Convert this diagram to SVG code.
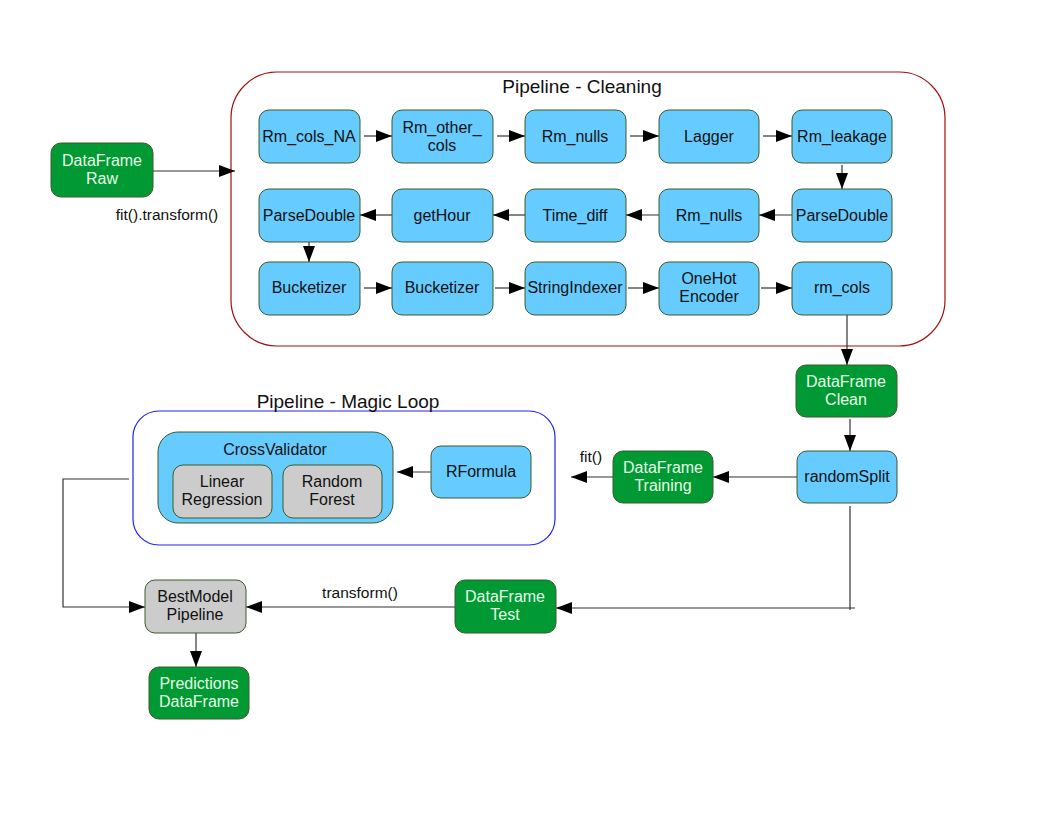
<svg xmlns="http://www.w3.org/2000/svg" width="1056" height="816" viewBox="0 0 1056 816">
  <style>
    .n rect { stroke: #3d5a2a; stroke-width: 1; }
    .blue rect { fill: #66ccff; }
    .green rect { fill: #009933; }
    .gray rect { fill: #cccccc; }
    text { font-family: "Liberation Sans", Arial, sans-serif; font-size: 16px; text-anchor: middle; fill: #111111; }
    .green text { fill: #e6ffe6; }
    .title { font-size: 19px; }
    .lbl { font-size: 15.5px; }
    .c { fill: none; stroke: #333333; stroke-width: 1.2; }
  </style>
  <defs>
    <marker id="ah" markerWidth="16" markerHeight="12" refX="16" refY="6" orient="auto" markerUnits="userSpaceOnUse">
      <path d="M0,0 L16,6 L0,12 Z" fill="#000000"/>
    </marker>
  </defs>
  <rect width="1056" height="816" fill="#ffffff"/>

  <!-- pipeline containers -->
  <g id="pipeline-cleaning">
    <rect x="231" y="72" width="714" height="274" rx="46" ry="46" fill="none" stroke="#a01010" stroke-width="1.2"/>
    <text class="title" x="582" y="93">Pipeline - Cleaning</text>
  </g>
  <g id="pipeline-magic-loop">
    <rect x="133" y="411" width="422" height="134" rx="26" ry="26" fill="none" stroke="#2222ee" stroke-width="1.2"/>
    <text class="title" x="348" y="408">Pipeline - Magic Loop</text>
  </g>

  <!-- connectors -->
  <g id="connectors">
    <path class="c" d="M153,171 H235" marker-end="url(#ah)"/>
    <!-- row 1 -->
    <path class="c" d="M364,136 H392" marker-end="url(#ah)"/>
    <path class="c" d="M497,136 H525" marker-end="url(#ah)"/>
    <path class="c" d="M630,136 H659" marker-end="url(#ah)"/>
    <path class="c" d="M763,136 H792" marker-end="url(#ah)"/>
    <path class="c" d="M842,165 V189" marker-end="url(#ah)"/>
    <!-- row 2 -->
    <path class="c" d="M792,215 H759" marker-end="url(#ah)"/>
    <path class="c" d="M659,215 H626" marker-end="url(#ah)"/>
    <path class="c" d="M525,215 H493" marker-end="url(#ah)"/>
    <path class="c" d="M392,215 H360" marker-end="url(#ah)"/>
    <path class="c" d="M309,242 V262" marker-end="url(#ah)"/>
    <!-- row 3 -->
    <path class="c" d="M364,288 H392" marker-end="url(#ah)"/>
    <path class="c" d="M495,288 H525" marker-end="url(#ah)"/>
    <path class="c" d="M628,288 H659" marker-end="url(#ah)"/>
    <path class="c" d="M761,288 H792" marker-end="url(#ah)"/>
    <path class="c" d="M847,315 V365" marker-end="url(#ah)"/>
    <!-- after cleaning -->
    <path class="c" d="M850,419 V451" marker-end="url(#ah)"/>
    <path class="c" d="M797,477 H713" marker-end="url(#ah)"/>
    <path class="c" d="M613,477 H571" marker-end="url(#ah)"/>
    <path class="c" d="M431,472 H397" marker-end="url(#ah)"/>
    <path class="c" d="M850,506 V610"/>
    <path class="c" d="M855,608 H556" marker-end="url(#ah)"/>
    <path class="c" d="M455,607 H246" marker-end="url(#ah)"/>
    <path class="c" d="M129,479 H63 V607 H145" marker-end="url(#ah)"/>
    <path class="c" d="M196,633 V667" marker-end="url(#ah)"/>
    <text class="lbl" x="167" y="220">fit().transform()</text>
    <text class="lbl" x="591" y="462">fit()</text>
    <text class="lbl" x="360" y="598">transform()</text>
  </g>

  <!-- input / output data frames -->
  <g id="df-raw" class="n green">
    <rect x="51" y="143" width="102" height="54" rx="10"/>
    <text x="102" y="166">DataFrame</text>
    <text x="102" y="184">Raw</text>
  </g>

  <!-- cleaning stages, row 1 -->
  <g id="rm-cols-na" class="n blue">
    <rect x="259" y="110" width="101" height="53" rx="10"/>
    <text x="309" y="142">Rm_cols_NA</text>
  </g>
  <g id="rm-other-cols" class="n blue">
    <rect x="392" y="110" width="101" height="53" rx="10"/>
    <text x="442" y="133">Rm_other_</text>
    <text x="442" y="151">cols</text>
  </g>
  <g id="rm-nulls-1" class="n blue">
    <rect x="525" y="110" width="101" height="53" rx="10"/>
    <text x="575" y="142">Rm_nulls</text>
  </g>
  <g id="lagger" class="n blue">
    <rect x="659" y="110" width="100" height="53" rx="10"/>
    <text x="709" y="142">Lagger</text>
  </g>
  <g id="rm-leakage" class="n blue">
    <rect x="792" y="110" width="100" height="53" rx="10"/>
    <text x="842" y="142">Rm_leakage</text>
  </g>

  <!-- row 2 -->
  <g id="parse-double-2" class="n blue">
    <rect x="792" y="189" width="100" height="53" rx="10"/>
    <text x="842" y="221">ParseDouble</text>
  </g>
  <g id="rm-nulls-2" class="n blue">
    <rect x="659" y="189" width="100" height="53" rx="10"/>
    <text x="709" y="221">Rm_nulls</text>
  </g>
  <g id="time-diff" class="n blue">
    <rect x="525" y="189" width="101" height="53" rx="10"/>
    <text x="575" y="221">Time_diff</text>
  </g>
  <g id="get-hour" class="n blue">
    <rect x="392" y="189" width="101" height="53" rx="10"/>
    <text x="442" y="221">getHour</text>
  </g>
  <g id="parse-double-1" class="n blue">
    <rect x="259" y="189" width="101" height="53" rx="10"/>
    <text x="309" y="221">ParseDouble</text>
  </g>

  <!-- row 3 -->
  <g id="bucketizer-1" class="n blue">
    <rect x="259" y="262" width="101" height="53" rx="10"/>
    <text x="309" y="293">Bucketizer</text>
  </g>
  <g id="bucketizer-2" class="n blue">
    <rect x="392" y="262" width="101" height="53" rx="10"/>
    <text x="442" y="293">Bucketizer</text>
  </g>
  <g id="string-indexer" class="n blue">
    <rect x="525" y="262" width="101" height="53" rx="10"/>
    <text x="575" y="293">StringIndexer</text>
  </g>
  <g id="onehot-encoder" class="n blue">
    <rect x="659" y="262" width="100" height="53" rx="10"/>
    <text x="709" y="284">OneHot</text>
    <text x="709" y="302">Encoder</text>
  </g>
  <g id="rm-cols" class="n blue">
    <rect x="792" y="262" width="100" height="53" rx="10"/>
    <text x="842" y="293">rm_cols</text>
  </g>

  <g id="df-clean" class="n green">
    <rect x="796" y="365" width="101" height="52" rx="10"/>
    <text x="846" y="387">DataFrame</text>
    <text x="846" y="405">Clean</text>
  </g>
  <g id="random-split" class="n blue">
    <rect x="797" y="451" width="100" height="52" rx="10"/>
    <text x="847" y="482">randomSplit</text>
  </g>
  <g id="df-training" class="n green">
    <rect x="613" y="451" width="100" height="52" rx="10"/>
    <text x="663" y="473">DataFrame</text>
    <text x="663" y="491">Training</text>
  </g>

  <!-- magic loop contents -->
  <g id="cross-validator" class="n blue">
    <rect x="158" y="432" width="235" height="91" rx="20"/>
    <text x="275" y="455">CrossValidator</text>
  </g>
  <g id="linear-regression" class="n gray">
    <rect x="173" y="465" width="99" height="53" rx="10"/>
    <text x="222" y="487">Linear</text>
    <text x="222" y="505">Regression</text>
  </g>
  <g id="random-forest" class="n gray">
    <rect x="283" y="465" width="99" height="53" rx="10"/>
    <text x="332" y="487">Random</text>
    <text x="332" y="505">Forest</text>
  </g>
  <g id="rformula" class="n blue">
    <rect x="431" y="446" width="100" height="52" rx="10"/>
    <text x="481" y="477">RFormula</text>
  </g>

  <!-- evaluation -->
  <g id="df-test" class="n green">
    <rect x="455" y="580" width="101" height="53" rx="10"/>
    <text x="505" y="602">DataFrame</text>
    <text x="505" y="620">Test</text>
  </g>
  <g id="best-model" class="n gray">
    <rect x="145" y="580" width="101" height="53" rx="10"/>
    <text x="195" y="602">BestModel</text>
    <text x="195" y="620">Pipeline</text>
  </g>
  <g id="predictions" class="n green">
    <rect x="149" y="667" width="100" height="52" rx="10"/>
    <text x="199" y="689">Predictions</text>
    <text x="199" y="707">DataFrame</text>
  </g>
</svg>
